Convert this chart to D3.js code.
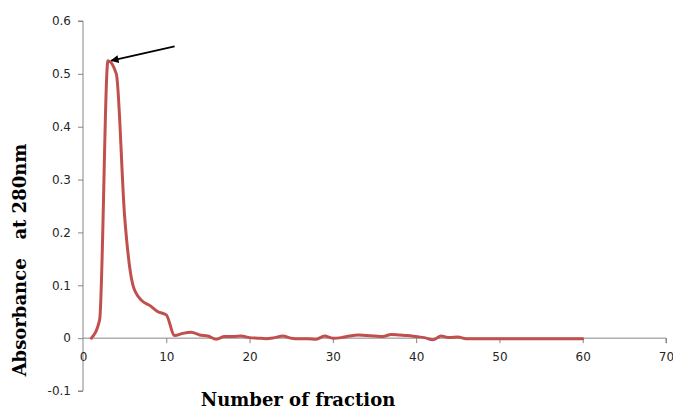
<!DOCTYPE html>
<html>
<head>
<meta charset="utf-8">
<script src="https://cdn.jsdelivr.net/npm/d3@7"></script>
<style>
  html, body { margin: 0; padding: 0; background: #fff; }
  svg { display: block; }
</style>
</head>
<body>
<svg id="chart" width="673" height="410"></svg>
<script>
// ---- data ----
const fractions = d3.range(1, 61);
const absorbance = [
  0, 0.035, 0.525, 0.5, 0.23, 0.1, 0.072, 0.062, 0.05, 0.044,
  0.005, 0.009, 0.011, 0.006, 0.004, -0.002, 0.003, 0.003, 0.004, 0.001,
  0, -0.001, 0.001, 0.004, 0, -0.001, -0.001, -0.002, 0.004, 0,
  0.001, 0.004, 0.006, 0.005, 0.004, 0.003, 0.007, 0.006, 0.005, 0.003,
  0.001, -0.003, 0.004, 0.001, 0.002, -0.001, -0.001, -0.001, -0.001, -0.001,
  -0.001, -0.001, -0.001, -0.001, -0.001, -0.001, -0.001, -0.001, -0.001, -0.001
];
const xTicks = [0, 10, 20, 30, 40, 50, 60, 70];
const yTicks = [-0.1, 0, 0.1, 0.2, 0.3, 0.4, 0.5, 0.6];
const xTitle = "Number of fraction";
const yTitle = "Absorbance   at 280nm";
// arrow annotation (data coordinates): tail -> head
const arrowTail = [11.0, 0.552];
const arrowHead = [3.4, 0.525];

// ---- layout ----
const svg = d3.select("#chart");
const mLeft = 83, mRight = 666, mTop = 21, mBottom = 391;
const x = d3.scaleLinear().domain([0, 70]).range([mLeft, mRight]);
const y = d3.scaleLinear().domain([-0.1, 0.6]).range([mBottom, mTop]);
const axisColor = "#868686";
const tickFont = "'DejaVu Sans', Verdana, sans-serif";

// y axis
const yAxis = svg.append("g")
  .attr("transform", `translate(${mLeft},0)`)
  .call(d3.axisLeft(y).tickValues(yTicks).tickSize(5).tickPadding(7)
        .tickFormat(d => String(+d.toFixed(1))));
yAxis.select(".domain").attr("stroke", axisColor).attr("d", `M-5,${y(0.6)}H0V${y(-0.1)}H-5`);
yAxis.selectAll(".tick line").attr("stroke", axisColor);
yAxis.selectAll(".tick text").attr("fill", "#262626").style("font-family", tickFont).style("font-size", "12px");

// x axis at y = 0
const xAxis = svg.append("g")
  .attr("transform", `translate(0,${y(0)})`)
  .call(d3.axisBottom(x).tickValues(xTicks).tickSize(5).tickPadding(9).tickFormat(d => String(d)));
xAxis.select(".domain").attr("stroke", axisColor).attr("d", `M${mLeft},0H${mRight}V5`);
xAxis.selectAll(".tick line").attr("stroke", axisColor);
xAxis.selectAll(".tick").filter(d => d === 0).select("line").remove();
xAxis.selectAll(".tick text").attr("fill", "#262626").style("font-family", tickFont).style("font-size", "12px");

// series line
const line = d3.line()
  .x((d, i) => x(fractions[i]))
  .y(d => y(d))
  .curve(d3.curveMonotoneX);
svg.append("path")
  .datum(absorbance)
  .attr("fill", "none")
  .attr("stroke", "#C0504D")
  .attr("stroke-width", 3)
  .attr("stroke-linejoin", "round")
  .attr("stroke-linecap", "round")
  .attr("d", line);

// arrow
svg.append("defs").append("marker")
  .attr("id", "arrowhead")
  .attr("viewBox", "0 0 10 10")
  .attr("refX", 9).attr("refY", 5)
  .attr("markerWidth", 9).attr("markerHeight", 8)
  .attr("markerUnits", "userSpaceOnUse")
  .attr("orient", "auto")
  .append("path").attr("d", "M0,0L10,5L0,10z").attr("fill", "#000");
svg.append("line")
  .attr("x1", x(arrowTail[0])).attr("y1", y(arrowTail[1]))
  .attr("x2", x(arrowHead[0])).attr("y2", y(arrowHead[1]))
  .attr("stroke", "#000").attr("stroke-width", 1.6)
  .attr("marker-end", "url(#arrowhead)");

// titles
const titleFont = "'DejaVu Serif', serif";
svg.append("text")
  .attr("x", 298).attr("y", 406)
  .attr("text-anchor", "middle")
  .style("font-family", titleFont).style("font-weight", "bold").style("font-size", "18px")
  .attr("fill", "#000")
  .text(xTitle);
svg.append("text")
  .attr("transform", "translate(26,260) rotate(-90)")
  .attr("text-anchor", "middle")
  .style("font-family", titleFont).style("font-weight", "bold").style("font-size", "18px")
  .style("white-space", "pre")
  .attr("xml:space", "preserve")
  .attr("fill", "#000")
  .text(yTitle);
</script>
</body>
</html>
